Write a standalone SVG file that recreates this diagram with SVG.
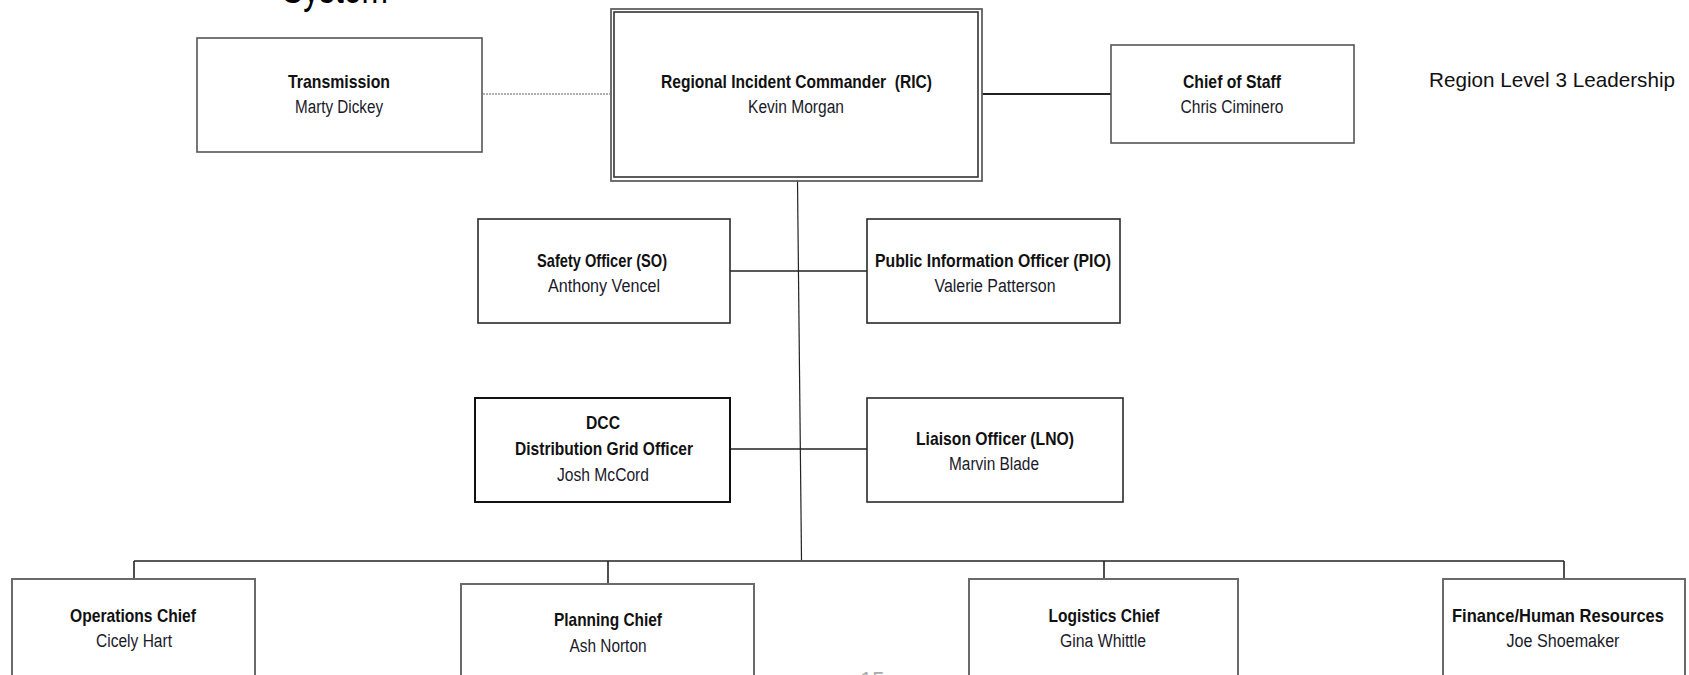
<svg xmlns="http://www.w3.org/2000/svg" width="1689" height="675" viewBox="0 0 1689 675">
<style>
  .box { fill: #fff; stroke: #555; stroke-width: 1.6; }
  .dark { stroke: #2a2a2a; }
  .low { stroke: #6a6a6a; stroke-width: 2; }
  .t { font-family: "Liberation Sans Narrow", "Liberation Sans", Arial, sans-serif; font-weight: bold; font-size: 19px; fill: #111; text-anchor: middle; }
  .n { font-family: "Liberation Sans Narrow", "Liberation Sans", Arial, sans-serif; font-size: 18px; fill: #1a1a2a; text-anchor: middle; }
  .conn line { stroke: #222; stroke-width: 1.6; fill: none; }
</style>
<rect width="1689" height="675" fill="#fff"/>

<text x="282" y="2.5" font-family="Liberation Sans, sans-serif" font-size="44" fill="#000" textLength="106" lengthAdjust="spacingAndGlyphs">System</text>
<text x="1429" y="87" font-family="Liberation Sans, Arial, sans-serif" font-size="21" fill="#111" textLength="246" lengthAdjust="spacingAndGlyphs">Region Level 3 Leadership</text>
<text x="860" y="687" font-family="Liberation Sans, sans-serif" font-size="22" fill="#aaa">15</text>

<g id="connectors" class="conn">
  <line x1="483" y1="94" x2="610" y2="94" style="stroke:#b0b0b0;stroke-dasharray:2 1;stroke-width:2"/>
  <line x1="982" y1="94" x2="1111" y2="94" style="stroke-width:2"/>
  <line x1="797.5" y1="181" x2="801.5" y2="560" style="stroke-width:1.2"/>
  <line x1="730" y1="271" x2="867" y2="271"/>
  <line x1="730" y1="449" x2="867" y2="449"/>
  <line x1="134" y1="561" x2="1564" y2="561"/>
  <line x1="134" y1="561" x2="134" y2="579"/>
  <line x1="608" y1="561" x2="608" y2="584"/>
  <line x1="1104" y1="561" x2="1104" y2="579"/>
  <line x1="1564" y1="561" x2="1564" y2="579"/>
</g>

<g id="transmission">
  <rect class="box" x="197" y="38" width="285" height="114"/>
  <text class="t" x="339" y="88" textLength="102" lengthAdjust="spacingAndGlyphs">Transmission</text>
  <text class="n" x="339" y="113" textLength="88" lengthAdjust="spacingAndGlyphs">Marty Dickey</text>
</g>

<g id="ric">
  <rect x="611" y="9" width="371" height="172" fill="#fff" stroke="#606060" stroke-width="1.8"/>
  <rect x="614" y="12" width="364" height="165" fill="none" stroke="#333" stroke-width="1.6"/>
  <text class="t" x="796.5" y="88" textLength="271" lengthAdjust="spacingAndGlyphs" xml:space="preserve">Regional Incident Commander  (RIC)</text>
  <text class="n" x="796" y="113" textLength="96" lengthAdjust="spacingAndGlyphs">Kevin Morgan</text>
</g>

<g id="chief-of-staff">
  <rect class="box" x="1111" y="45" width="243" height="98"/>
  <text class="t" x="1232" y="88" textLength="98" lengthAdjust="spacingAndGlyphs">Chief of Staff</text>
  <text class="n" x="1232" y="113" textLength="103" lengthAdjust="spacingAndGlyphs">Chris Ciminero</text>
</g>

<g id="safety-officer">
  <rect class="box dark" x="478" y="219" width="252" height="104"/>
  <text class="t" x="602" y="267" textLength="130" lengthAdjust="spacingAndGlyphs">Safety Officer (SO)</text>
  <text class="n" x="604" y="292" textLength="112" lengthAdjust="spacingAndGlyphs">Anthony Vencel</text>
</g>

<g id="pio">
  <rect class="box dark" x="867" y="219" width="253" height="104"/>
  <text class="t" x="993" y="267" textLength="236" lengthAdjust="spacingAndGlyphs">Public Information Officer (PIO)</text>
  <text class="n" x="995" y="292" textLength="121" lengthAdjust="spacingAndGlyphs">Valerie Patterson</text>
</g>

<g id="dcc">
  <rect class="box" x="475" y="398" width="255" height="104" style="stroke:#111;stroke-width:2"/>
  <text class="t" x="603" y="429" textLength="34" lengthAdjust="spacingAndGlyphs">DCC</text>
  <text class="t" x="604" y="455" textLength="178" lengthAdjust="spacingAndGlyphs">Distribution Grid Officer</text>
  <text class="n" x="603" y="481" textLength="92" lengthAdjust="spacingAndGlyphs">Josh McCord</text>
</g>

<g id="lno">
  <rect class="box dark" x="867" y="398" width="256" height="104"/>
  <text class="t" x="995" y="445" textLength="158" lengthAdjust="spacingAndGlyphs">Liaison Officer (LNO)</text>
  <text class="n" x="994" y="470" textLength="90" lengthAdjust="spacingAndGlyphs">Marvin Blade</text>
</g>

<g id="operations">
  <rect class="box low" x="12" y="579" width="243" height="130"/>
  <text class="t" x="133" y="622" textLength="126" lengthAdjust="spacingAndGlyphs">Operations Chief</text>
  <text class="n" x="134" y="647" textLength="76" lengthAdjust="spacingAndGlyphs">Cicely Hart</text>
</g>

<g id="planning">
  <rect class="box low" x="461" y="584" width="293" height="130"/>
  <text class="t" x="608" y="626" textLength="108" lengthAdjust="spacingAndGlyphs">Planning Chief</text>
  <text class="n" x="608" y="652" textLength="77" lengthAdjust="spacingAndGlyphs">Ash Norton</text>
</g>

<g id="logistics">
  <rect class="box low" x="969" y="579" width="269" height="130"/>
  <text class="t" x="1104" y="622" textLength="111" lengthAdjust="spacingAndGlyphs">Logistics Chief</text>
  <text class="n" x="1103" y="647" textLength="86" lengthAdjust="spacingAndGlyphs">Gina Whittle</text>
</g>

<g id="finance">
  <rect class="box low" x="1443" y="579" width="242" height="130"/>
  <text class="t" x="1558" y="622" textLength="212" lengthAdjust="spacingAndGlyphs">Finance/Human Resources</text>
  <text class="n" x="1563" y="647" textLength="113" lengthAdjust="spacingAndGlyphs">Joe Shoemaker</text>
</g>
</svg>
